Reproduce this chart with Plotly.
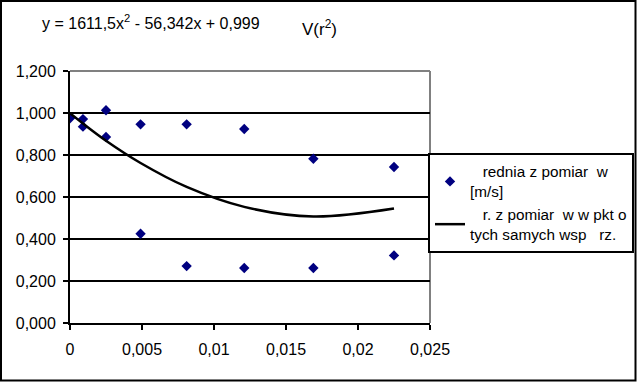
import plotly.graph_objects as go

# --- data ---
r2_points = [0, 0.0009, 0.0009, 0.0025, 0.0025, 0.0049, 0.0049, 0.0081, 0.0081,
             0.0121, 0.0121, 0.0169, 0.0169, 0.0225, 0.0225]
v_points = [0.975, 0.971, 0.935, 1.013, 0.886, 0.946, 0.425, 0.946, 0.271,
            0.924, 0.262, 0.782, 0.262, 0.743, 0.322]

r2_line = [0, 0.0009, 0.0025, 0.0049, 0.0081, 0.0121, 0.0169, 0.0225]
v_line = [0.999, 0.950, 0.868, 0.762, 0.648, 0.553, 0.507, 0.545]

x_tickvals = [0, 0.005, 0.01, 0.015, 0.02, 0.025]
x_ticktext = ["0", "0,005", "0,01", "0,015", "0,02", "0,025"]
y_tickvals = [0, 0.2, 0.4, 0.6, 0.8, 1.0, 1.2]
y_ticktext = ["0,000", "0,200", "0,400", "0,600", "0,800", "1,000", "1,200"]

name_points = "\u00a0\u00a0\u00a0rednia z pomiar\u00a0\u00a0w<br>[m/s]"
name_line = "\u00a0\u00a0\u00a0r. z pomiar\u00a0\u00a0w w pkt o<br>tych samych wsp\u00a0\u00a0\u00a0rz."
equation = "y = 1611,5x<sup>2</sup> - 56,342x + 0,999"
title = "V(r<sup>2</sup>)"

W, H = 637, 383
L, R, T, B = 70, 430, 71, 323

def px(x):
    return (x - L) / (R - L)

def py(y):
    return (B - y) / (B - T)

FONT = "Liberation Sans, Arial, sans-serif"

fig = go.Figure()
fig.add_trace(go.Scatter(
    x=r2_points, y=v_points, mode="markers", name=name_points,
    marker=dict(symbol="diamond", size=8, color="#000080"),
))
fig.add_trace(go.Scatter(
    x=r2_line, y=v_line, mode="lines", name=name_line,
    line=dict(color="black", width=2.5, shape="spline"),
))

fig.update_layout(
    width=W, height=H, autosize=False,
    margin=dict(l=L, r=W - R, t=T, b=H - B, pad=0, autoexpand=False),
    paper_bgcolor="white", plot_bgcolor="white",
    font=dict(family=FONT, size=15, color="black"),
    showlegend=True,
    legend=dict(
        x=px(428), y=py(153), xanchor="left", yanchor="top",
        bordercolor="black", borderwidth=2, bgcolor="white",
        font=dict(family=FONT, size=15.3, color="black"),
        tracegroupgap=0, itemwidth=30,
    ),
    xaxis=dict(
        range=[0, 0.025], tickvals=x_tickvals, ticktext=x_ticktext,
        showgrid=False, zeroline=False, showline=True, linecolor="black", linewidth=2,
        ticks="outside", ticklen=5, tickwidth=2, tickcolor="black",
        tickfont=dict(family=FONT, size=16), ticklabelstandoff=6,
    ),
    yaxis=dict(
        range=[0, 1.2], tickvals=y_tickvals, ticktext=y_ticktext,
        showgrid=True, gridcolor="black", gridwidth=2,
        zeroline=False, showline=True, linecolor="black", linewidth=2,
        ticks="outside", ticklen=5, tickwidth=2, tickcolor="black",
        tickfont=dict(family=FONT, size=16), ticklabelstandoff=4,
    ),
    shapes=[
        # grey plot-area border top and right
        dict(type="line", xref="paper", yref="paper", x0=0, x1=1, y0=1, y1=1,
             line=dict(color="#808080", width=2), layer="above"),
        dict(type="line", xref="paper", yref="paper", x0=1, x1=1, y0=0, y1=1,
             line=dict(color="#808080", width=2), layer="below"),
        # outer chart frame
        dict(type="rect", xref="paper", yref="paper",
             x0=px(1), x1=px(635.5), y0=py(1), y1=py(380.5),
             line=dict(color="black", width=2), fillcolor="rgba(0,0,0,0)", layer="above"),
    ],
    annotations=[
        dict(text=equation, xref="paper", yref="paper", x=px(40), y=py(22),
             xanchor="left", yanchor="middle", showarrow=False,
             font=dict(family=FONT, size=16)),
        dict(text=title, xref="paper", yref="paper", x=px(300), y=py(28),
             xanchor="left", yanchor="middle", showarrow=False,
             font=dict(family=FONT, size=17)),
    ],
)

post = ("var d=document.getElementById('{plot_id}');"
        "d.style.position='fixed';d.style.left='0px';d.style.top='0px';")

fig.write_html("out.html",
               config={"displayModeBar": False, "responsive": False},
               post_script=post)
